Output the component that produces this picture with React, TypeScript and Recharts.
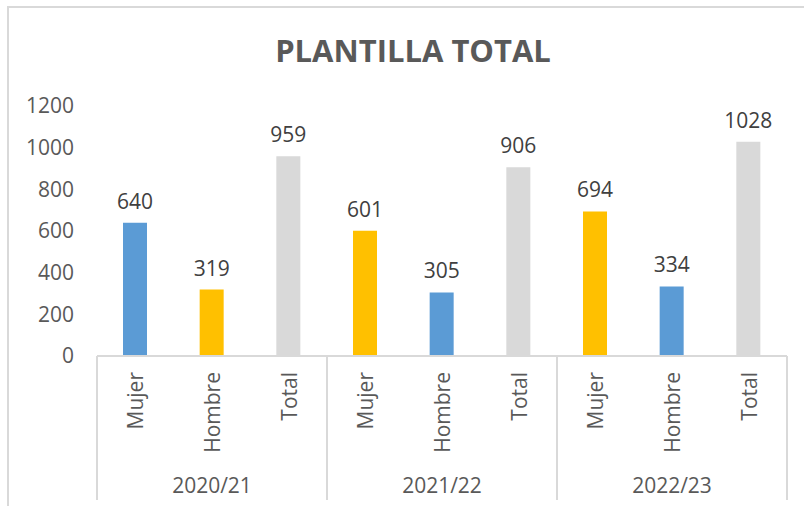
import React from 'react';
import { BarChart, Bar, XAxis, YAxis, LabelList, Cell } from 'recharts';

const categories = ['Mujer', 'Hombre', 'Total', 'Mujer', 'Hombre', 'Total', 'Mujer', 'Hombre', 'Total'];
const groups = ['2020/21', '2021/22', '2022/23'];
const values = [640, 319, 959, 601, 305, 906, 694, 334, 1028];
const yTicks = [0, 200, 400, 600, 800, 1000, 1200];
const barColors = ['#5B9BD5', '#FFC000', '#D9D9D9', '#FFC000', '#5B9BD5', '#D9D9D9', '#FFC000', '#5B9BD5', '#D9D9D9'];

const data = categories.map((c, i) => ({
  key: `${groups[Math.floor(i / 3)]}-${c}-${i}`,
  name: c,
  group: groups[Math.floor(i / 3)],
  value: values[i],
}));

const W = 804;
const H = 506;
const PLOT_LEFT = 97;
const PLOT_RIGHT = 787;
const BAND = (PLOT_RIGHT - PLOT_LEFT) / categories.length;
const FONT = '"Open Sans", "Liberation Sans", sans-serif';
const TEXT = '#595959';
const LINE = '#D9D9D9';
const FS = 21;

const CatTick = (props: any) => {
  const { x, y, index } = props;
  const d = data[index];
  if (!d) return null;
  const items: any[] = [];
  items.push(
    <text
      key="t"
      x={0}
      y={0}
      transform={`translate(${x + 8}, ${y + 16}) rotate(-90)`}
      textAnchor="end"
      fontSize={FS}
      fill={TEXT}
      fontFamily={FONT}
    >
      {d.name}
    </text>
  );
  if (index % 3 === 0) {
    const lx = x - BAND / 2;
    items.push(<line key="l" x1={lx} x2={lx} y1={y} y2={y + 144} stroke={LINE} strokeWidth={2} />);
  }
  if (index === categories.length - 1) {
    const rx = x + BAND / 2;
    items.push(<line key="r" x1={rx} x2={rx} y1={y} y2={y + 144} stroke={LINE} strokeWidth={2} />);
  }
  if (index % 3 === 1) {
    items.push(
      <text key="g" x={x} y={y + 137} textAnchor="middle" fontSize={FS} fill={TEXT} fontFamily={FONT}>
        {d.group}
      </text>
    );
  }
  return <g>{items}</g>;
};

export default function App() {
  return (
    <div style={{ position: 'absolute', left: 0, top: 0, width: W, height: H, background: '#fff', overflow: 'hidden' }}>
      <div
        style={{
          position: 'absolute',
          left: 7,
          top: 6,
          width: W,
          height: H,
          borderTop: `2px solid ${LINE}`,
          borderLeft: `2px solid ${LINE}`,
        }}
      />
      <div
        style={{
          position: 'absolute',
          left: 0,
          width: 826,
          top: 30,
          textAlign: 'center',
          fontFamily: FONT,
          fontWeight: 700,
          fontSize: 31,
          color: TEXT,
          lineHeight: '40px',
        }}
      >
        PLANTILLA TOTAL
      </div>
      <div style={{ position: 'absolute', left: 0, top: 0 }}>
        <BarChart width={W} height={H} data={data} margin={{ top: 106, right: W - PLOT_RIGHT, bottom: 0, left: 0 }}>
          <YAxis
            width={PLOT_LEFT}
            domain={[0, 1200]}
            ticks={yTicks}
            axisLine={false}
            tickLine={false}
            tickSize={0}
            tickMargin={23}
            tick={{ fontSize: FS, fill: TEXT, fontFamily: FONT }}
            interval={0}
          />
          <XAxis
            dataKey="key"
            height={H - 356}
            interval={0}
            tickLine={false}
            tickSize={0}
            tickMargin={0}
            axisLine={{ stroke: LINE, strokeWidth: 2 }}
            tick={<CatTick />}
          />
          <Bar dataKey="value" barSize={24} isAnimationActive={false}>
            {data.map((d, i) => (
              <Cell key={d.key} fill={barColors[i]} />
            ))}
            <LabelList dataKey="value" position="top" offset={14} fill="#404040" fontSize={FS} fontFamily={FONT} />
          </Bar>
        </BarChart>
      </div>
    </div>
  );
}
